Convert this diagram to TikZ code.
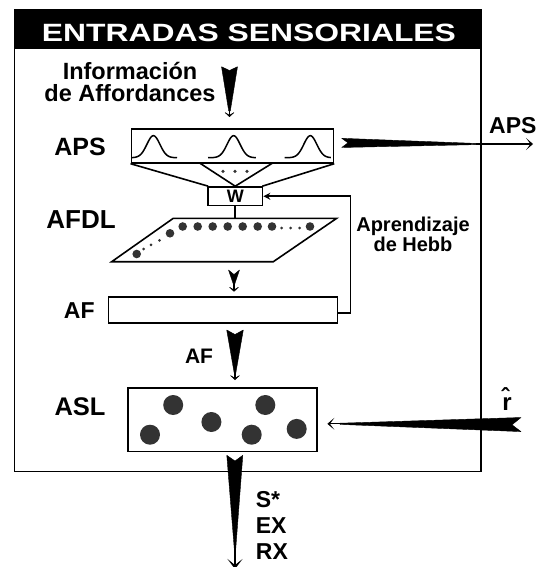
\documentclass[tikz,border=0pt]{standalone}
\usepackage{fontspec}
\setmainfont{Liberation Sans}
\usetikzlibrary{arrows.meta}
\tikzset{
  ln/.style={line width=1.6pt},
  boxnode/.style={draw, line width=1.6pt, inner sep=0pt},
  lbl/.style={font=\bfseries\fontsize{#1}{#1}\selectfont, inner sep=0pt},
  wedgefill/.style={fill=black, draw=black, line width=0.4pt, line join=round},
  tipline/.style={line width=1.2pt, -{Stealth[length=6pt,width=13pt,inset=4pt]}},
  bigdot/.style={fill=black!80},
  smalldot/.style={fill=black!80}
}
\begin{document}
\begin{tikzpicture}[x=1pt,y=-1pt]
\useasboundingbox (0,0) rectangle (535,567);
% outer frame and title
\draw[ln] (14.3,10.2) rectangle (480.8,471.4);
\fill (14.3,10.2) rectangle (480.8,49.5);
\node[lbl=25, text=white, anchor=base] (title) at (249,41.2) {\resizebox{414pt}{\height}{ENTRADAS SENSORIALES}};
% boxes
\node[boxnode, minimum width=202.2pt, minimum height=34.1pt] (aps) at (232.4,145.85) {};
\node[boxnode, minimum width=54.5pt, minimum height=18.5pt, font=\bfseries\fontsize{18}{18}\selectfont] (w) at (235.25,196.25) {W};
\node[boxnode, minimum width=229.2pt, minimum height=26pt] (af) at (223,309.7) {};
\node[boxnode, minimum width=189.2pt, minimum height=63.3pt] (asl) at (222.5,419.65) {};
% labels
\node[lbl=23.5, align=center, anchor=base] (info) at (130,101.7) {Información\\[-1.3pt]de Affordances};
\node[lbl=25, anchor=base] (lAPS) at (80,155) {APS};
\node[lbl=26, anchor=base] (lAFDL) at (81,228) {AFDL};
\node[lbl=23, anchor=base] (lAF) at (79.3,318.9) {AF};
\node[lbl=21, anchor=base] (lAF2) at (199,363.3) {AF};
\node[lbl=25.5, anchor=base] (lASL) at (80,415) {ASL};
\node[lbl=20, align=center, anchor=base] (hebb) at (413,251.7) {Aprendizaje\\de Hebb};
\node[lbl=23, anchor=base west] (lAPSout) at (489,133.9) {APS};
\node[lbl=24, anchor=base] (rhat) at (507,410) {\^{r}};
\node[lbl=23, align=left, anchor=base west] (outs) at (255.7,559) {S*\\[3pt]EX\\[3pt]RX};
% bells in APS
\foreach \c/\a/\b in {153.4/-22/23.6, 233.6/-25.6/22.2, 310.3/-25.6/20.5}{
  \draw[line width=1.5pt] plot[domain=\a:\b, samples=70, smooth] ({\c+\x},{157.7-22*exp(-(\x*\x)/85)});
}
% funnel to W
\draw[ln] (aps.south west) -- ([xshift=-27pt]w.north) ;
\draw[ln] (aps.south east) -- ([xshift=27pt]w.north);
\draw[ln] (199.5,162.9) -- (w.north) -- (272.8,162.9);
\foreach \x in {223,235,247} \fill[black!80] (\x,171.4) circle (1.8);
% AFDL parallelogram
\coordinate (p1) at (111.7,261.7);
\coordinate (p2) at (273.3,261.7);
\coordinate (p3) at (336.7,218.3);
\coordinate (p4) at (173.3,218.3);
\draw[ln, line join=miter] (p1) -- (p2) -- (p3) -- (p4) -- cycle;
\draw[ln] (w.south) -- (w.south |- p4);
\foreach \x in {182.7,197.7,212.7,227.7,242.7,257.7,272,310} \fill[bigdot] (\x,226.5) circle (4.3);
\foreach \x in {281.7,290.5,299.5} \fill[smalldot] (\x,228) circle (1.5);
\fill[bigdot] (170,233.3) circle (4.3);
\fill[bigdot] (136.7,254) circle (4.3);
\foreach \p in {(159.5,240.3),(151,244.8),(143.5,249)} \fill[smalldot] \p circle (1.5);
% Hebb feedback
\draw[ln, -{Stealth[length=7pt,width=7pt]}] ([yshift=-3pt]af.east) -- (350.5,312.7) |- (w.east);
% ASL dots
\foreach \p in {(173.2,405),(150,434.7),(211.4,422),(265.3,405),(251.7,434.7),(296.7,428.9)}
  \fill[black!80] \p circle (10);
% wedge arrows
% information -> APS
\coordinate (i1) at (229.5,111);
\coordinate (i2) at (229.5,117);
\filldraw[wedgefill] (221.5,66.7) -- (229.5,70.5) -- (237.5,66.7) -- (230.3,111) -- (228.7,111) -- cycle;
\draw[tipline] (i1) -- (i2);
% APS out
\coordinate (o1) at (476,144);
\coordinate (o2) at (533,144);
\filldraw[wedgefill] (341.7,138.3) -- (348,142.8) -- (341.7,147.5) -- (478,144.6) -- (478,143.5) -- cycle;
\draw[line width=1.3pt, -{Stealth[length=7pt,width=12pt,inset=4.5pt]}] (o1) -- (o2);
% AFDL -> AF
\coordinate (s1) at (234,283);
\coordinate (s2) at (234,291.7);
\filldraw[wedgefill] (228.5,270) -- (234,274.5) -- (239.5,270) -- (234.7,284) -- (233.3,284) -- cycle;
\draw[tipline] (s1) -- (s2);
% AF -> ASL
\coordinate (a1) at (235,372);
\coordinate (a2) at (235,380);
\filldraw[wedgefill] (226.7,330) -- (235,334.5) -- (243.3,330) -- (235.8,373) -- (234.2,373) -- cycle;
\draw[tipline] (a1) -- (a2);
% r hat -> ASL
\coordinate (r1) at (345,423.8);
\coordinate (r2) at (327.4,423.8);
\filldraw[wedgefill] (521,417.5) -- (512,424.8) -- (521,431.6) -- (340,424.4) -- (340,423.2) -- cycle;
\draw[line width=1.3pt, -{Stealth[length=7pt,width=12pt,inset=4.5pt]}] (r1) -- (r2);
% ASL -> output
\coordinate (b1) at (235,545);
\coordinate (b2) at (235,569);
\filldraw[wedgefill] (226.8,455.3) -- (235,461) -- (242.8,455.3) -- (235.8,548) -- (234.2,548) -- cycle;
\draw[line width=1.3pt, -{Stealth[length=10pt,width=15pt,inset=6pt]}] (b1) -- (b2);
\end{tikzpicture}
\end{document}
